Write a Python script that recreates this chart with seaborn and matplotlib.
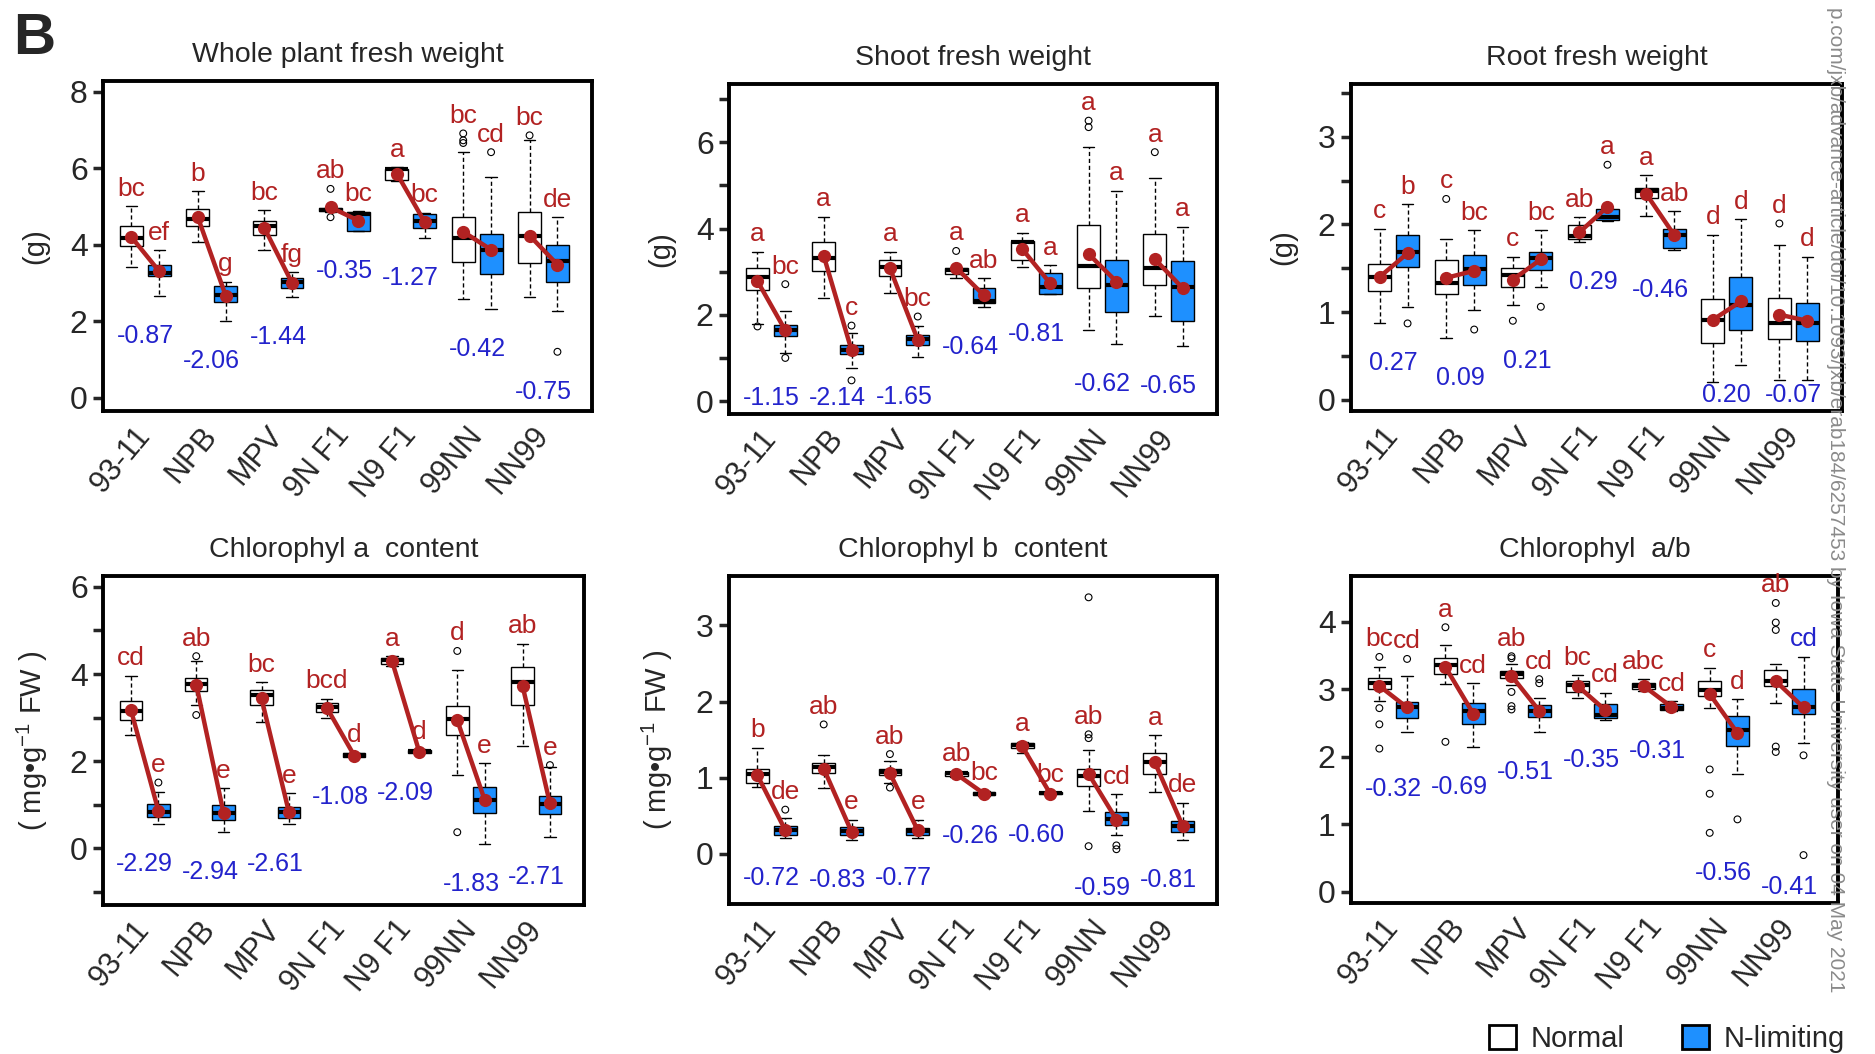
import numpy as np
import pandas as pd
import matplotlib
matplotlib.use("Agg")
import matplotlib.pyplot as plt
import matplotlib.transforms as mtransforms
from matplotlib.patches import Patch
import seaborn as sns

genotypes = ["93-11", "NPB", "MPV", "9N F1", "N9 F1", "99NN", "NN99"]
conditions = ["Normal", "N-limiting"]

# each box: [lower whisker, Q1, median, Q3, upper whisker]
# whole plant fresh weight (g)
wp_normal = [[3.43, 3.96, 4.17, 4.48, 5.01], [4.06, 4.48, 4.68, 4.94, 5.40], [3.87, 4.26, 4.48, 4.63, 4.90],
             [4.85, 4.87, 4.92, 4.96, 4.98], [5.66, 5.70, 5.97, 5.99, 6.03], [2.58, 3.56, 4.17, 4.72, 6.42],
             [2.64, 3.51, 4.22, 4.85, 6.73]]
wp_nlim = [[2.67, 3.17, 3.26, 3.48, 3.85], [2.01, 2.49, 2.68, 2.91, 3.03], [2.64, 2.86, 3.02, 3.12, 3.28],
           [4.35, 4.35, 4.81, 4.85, 4.87], [4.17, 4.43, 4.63, 4.81, 4.83], [2.32, 3.23, 3.87, 4.28, 5.77],
           [2.27, 3.02, 3.58, 3.99, 4.72]]
wp_out_normal = [[], [], [], [5.46, 4.72], [], [6.91, 6.73, 6.66], [6.86]]
wp_out_nlim = [[], [], [], [], [], [6.42], [1.20]]
wp_mean_normal = [4.20, 4.72, 4.45, 4.98, 5.86, 4.34, 4.24]
wp_mean_nlim = [3.30, 2.67, 3.00, 4.63, 4.59, 3.87, 3.48]
wp_let_normal = ["bc", "b", "bc", "ab", "a", "bc", "bc"]
wp_let_nlim = ["ef", "g", "fg", "bc", "bc", "cd", "de"]
wp_change = [-0.87, -2.06, -1.44, -0.35, -1.27, -0.42, -0.75]

# shoot fresh weight (g)
sh_normal = [[1.78, 2.58, 2.88, 3.09, 3.46], [2.40, 3.02, 3.31, 3.68, 4.27], [2.50, 2.91, 3.10, 3.28, 3.46],
             [2.85, 2.94, 3.04, 3.08, 3.09], [3.10, 3.28, 3.68, 3.71, 3.90], [1.64, 2.63, 3.12, 4.08, 5.90],
             [1.98, 2.68, 3.08, 3.87, 5.18]]
sh_nlim = [[1.12, 1.50, 1.65, 1.77, 2.09], [0.77, 1.08, 1.19, 1.31, 1.58], [1.02, 1.31, 1.44, 1.52, 1.75],
           [2.19, 2.28, 2.31, 2.62, 2.85], [2.48, 2.48, 2.64, 2.96, 3.15], [1.33, 2.06, 2.68, 3.27, 4.87],
           [1.28, 1.86, 2.64, 3.25, 4.04]]
sh_out_normal = [[1.73], [], [], [3.48], [], [6.50, 6.35], [5.77]]
sh_out_nlim = [[2.71, 1.00], [1.75, 0.48], [1.96], [], [], [], []]
sh_mean_normal = [2.78, 3.37, 3.08, 3.09, 3.52, 3.41, 3.29]
sh_mean_nlim = [1.64, 1.18, 1.42, 2.45, 2.73, 2.77, 2.62]
sh_let_normal = ["a", "a", "a", "a", "a", "a", "a"]
sh_let_nlim = ["bc", "c", "bc", "ab", "a", "a", "a"]
sh_change = [-1.15, -2.14, -1.65, -0.64, -0.81, -0.62, -0.65]

# root fresh weight (g)
rt_normal = [[0.87, 1.24, 1.40, 1.55, 1.95], [0.70, 1.20, 1.33, 1.59, 1.83], [1.08, 1.29, 1.42, 1.50, 1.63],
             [1.80, 1.83, 1.87, 1.99, 2.08], [2.09, 2.30, 2.38, 2.42, 2.56], [0.20, 0.65, 0.91, 1.15, 1.88],
             [0.23, 0.69, 0.88, 1.16, 1.76]]
rt_nlim = [[1.06, 1.51, 1.69, 1.88, 2.23], [1.02, 1.31, 1.49, 1.65, 1.93], [1.29, 1.48, 1.62, 1.69, 1.93],
           [2.04, 2.05, 2.08, 2.18, 2.19], [1.71, 1.73, 1.88, 1.95, 2.15], [0.39, 0.79, 1.08, 1.40, 2.06],
           [0.23, 0.67, 0.87, 1.10, 1.63]]
rt_out_normal = [[], [2.29], [0.90], [], [], [], [2.01]]
rt_out_nlim = [[0.87], [0.80], [1.06], [2.68], [], [], []]
rt_mean_normal = [1.40, 1.39, 1.37, 1.91, 2.35, 0.91, 0.97]
rt_mean_nlim = [1.67, 1.47, 1.60, 2.20, 1.88, 1.12, 0.90]
rt_let_normal = ["c", "c", "c", "ab", "a", "d", "d"]
rt_let_nlim = ["b", "bc", "bc", "a", "ab", "d", "d"]
rt_change = [0.27, 0.09, 0.21, 0.29, -0.46, 0.20, -0.07]

# chlorophyll a (mg/g FW)
ca_normal = [[2.61, 2.94, 3.16, 3.38, 3.96], [3.30, 3.62, 3.78, 3.91, 4.30], [2.89, 3.30, 3.52, 3.63, 3.81],
             [3.00, 3.12, 3.25, 3.34, 3.43], [4.19, 4.24, 4.32, 4.37, 4.41], [1.68, 2.60, 2.96, 3.27, 4.09],
             [2.35, 3.29, 3.82, 4.17, 4.70]]
ca_nlim = [[0.56, 0.73, 0.83, 1.02, 1.30], [0.38, 0.65, 0.80, 0.99, 1.38], [0.56, 0.70, 0.84, 0.94, 1.26],
           [2.09, 2.10, 2.14, 2.18, 2.19], [2.18, 2.19, 2.23, 2.26, 2.27], [0.11, 0.82, 1.11, 1.40, 1.95],
           [0.25, 0.79, 1.01, 1.20, 1.86]]
ca_out_normal = [[], [4.41, 3.06], [], [], [], [4.53, 0.37], []]
ca_out_nlim = [[1.51], [], [], [], [], [], [1.91]]
ca_mean_normal = [3.17, 3.76, 3.44, 3.23, 4.30, 2.94, 3.73]
ca_mean_nlim = [0.86, 0.80, 0.83, 2.13, 2.20, 1.11, 1.03]
ca_let_normal = ["cd", "ab", "bc", "bcd", "a", "d", "ab"]
ca_let_nlim = ["e", "e", "e", "d", "d", "e", "e"]
ca_change = [-2.29, -2.94, -2.61, -1.08, -2.09, -1.83, -2.71]

# chlorophyll b (mg/g FW)
cb_normal = [[0.88, 0.93, 1.05, 1.12, 1.39], [0.86, 1.06, 1.14, 1.19, 1.30], [0.93, 1.03, 1.08, 1.12, 1.22],
             [1.01, 1.02, 1.06, 1.08, 1.08], [1.33, 1.39, 1.43, 1.45, 1.47], [0.56, 0.89, 1.02, 1.12, 1.37],
             [0.81, 1.05, 1.21, 1.33, 1.56]]
cb_nlim = [[0.21, 0.25, 0.31, 0.37, 0.47], [0.18, 0.25, 0.30, 0.35, 0.45], [0.21, 0.25, 0.30, 0.34, 0.45],
           [0.76, 0.77, 0.79, 0.81, 0.83], [0.77, 0.78, 0.80, 0.81, 0.81], [0.25, 0.38, 0.46, 0.55, 0.78],
           [0.18, 0.29, 0.37, 0.43, 0.67]]
cb_out_normal = [[], [1.70], [1.31, 0.87], [], [], [3.37, 1.57, 1.52, 0.10], []]
cb_out_nlim = [[0.58], [], [], [], [], [0.11, 0.06], []]
cb_mean_normal = [1.03, 1.12, 1.06, 1.05, 1.41, 1.05, 1.20]
cb_mean_nlim = [0.31, 0.29, 0.31, 0.79, 0.79, 0.45, 0.37]
cb_let_normal = ["b", "ab", "ab", "ab", "a", "ab", "a"]
cb_let_nlim = ["de", "e", "e", "bc", "bc", "cd", "de"]
cb_change = [-0.72, -0.83, -0.77, -0.26, -0.60, -0.59, -0.81]

# chlorophyll a/b
ab_normal = [[2.82, 3.01, 3.09, 3.17, 3.33], [3.08, 3.22, 3.36, 3.47, 3.65], [3.07, 3.17, 3.22, 3.27, 3.37],
             [2.87, 2.96, 3.06, 3.13, 3.21], [2.98, 3.01, 3.05, 3.10, 3.15], [2.72, 2.90, 2.99, 3.12, 3.32],
             [2.79, 3.05, 3.13, 3.28, 3.37]]
ab_nlim = [[2.36, 2.58, 2.73, 2.81, 3.19], [2.15, 2.48, 2.68, 2.79, 3.09], [2.37, 2.59, 2.68, 2.77, 2.87],
           [2.54, 2.58, 2.62, 2.78, 2.95], [2.68, 2.69, 2.72, 2.78, 2.82], [1.74, 2.16, 2.40, 2.60, 2.85],
           [2.20, 2.64, 2.73, 3.00, 3.48]]
ab_out_normal = [[3.48, 2.72, 2.48, 2.12], [3.92, 2.22], [3.49, 3.46, 2.96, 2.75, 2.70], [], [],
                 [1.81, 1.45, 0.87], [4.28, 3.99, 3.88, 2.15, 2.07]]
ab_out_nlim = [[3.45], [], [3.15, 3.09], [], [], [1.07], [2.02, 0.54]]
ab_mean_normal = [3.05, 3.33, 3.20, 3.05, 3.05, 2.93, 3.12]
ab_mean_nlim = [2.73, 2.64, 2.68, 2.69, 2.74, 2.35, 2.73]
ab_let_normal = ["bc", "a", "ab", "bc", "abc", "c", "ab"]
ab_let_nlim = ["cd", "cd", "cd", "cd", "cd", "d", "cd"]
ab_change = [-0.32, -0.69, -0.51, -0.35, -0.31, -0.56, -0.41]

RED = "#B22222"
BLUE_TXT = "#2323CC"
BOX_BLUE = "#1E90FF"
box_width = 0.84
unit_label = "( mg\u2022g$^{-1}$ FW )"

panels = [
    dict(title="Whole plant fresh weight", ylabel="(g)", box=(wp_normal, wp_nlim), out=(wp_out_normal, wp_out_nlim),
         mean=(wp_mean_normal, wp_mean_nlim), let=(wp_let_normal, wp_let_nlim), change=wp_change,
         ylim=(-0.35, 8.28), ticks=np.arange(0, 9, 2), labstep=2, rect=[0.0549, 0.610, 0.2608, 0.3131]),
    dict(title="Shoot fresh weight", ylabel="(g)", box=(sh_normal, sh_nlim), out=(sh_out_normal, sh_out_nlim),
         mean=(sh_mean_normal, sh_mean_nlim), let=(sh_let_normal, sh_let_nlim), change=sh_change,
         ylim=(-0.3, 7.35), ticks=np.arange(0, 8, 1), labstep=2, rect=[0.3888, 0.6072, 0.2603, 0.3131]),
    dict(title="Root fresh weight", ylabel="(g)", box=(rt_normal, rt_nlim), out=(rt_out_normal, rt_out_nlim),
         mean=(rt_mean_normal, rt_mean_nlim), let=(rt_let_normal, rt_let_nlim), change=rt_change,
         ylim=(-0.13, 3.6), ticks=np.arange(0, 3.6, 0.5), labstep=1, rect=[0.7205, 0.610, 0.2619, 0.3102]),
    dict(title="Chlorophyl a  content", ylabel=unit_label, box=(ca_normal, ca_nlim), out=(ca_out_normal, ca_out_nlim),
         mean=(ca_mean_normal, ca_mean_nlim), let=(ca_let_normal, ca_let_nlim), change=ca_change,
         ylim=(-1.3, 6.25), ticks=np.arange(-1, 7, 1), labstep=2, rect=[0.0549, 0.1414, 0.2565, 0.3121]),
    dict(title="Chlorophyl b  content", ylabel=unit_label, box=(cb_normal, cb_nlim), out=(cb_out_normal, cb_out_nlim),
         mean=(cb_mean_normal, cb_mean_nlim), let=(cb_let_normal, cb_let_nlim), change=cb_change,
         ylim=(-0.66, 3.65), ticks=np.arange(0, 4, 1), labstep=1, rect=[0.3888, 0.1423, 0.2603, 0.3112]),
    dict(title="Chlorophyl  a/b", ylabel="", box=(ab_normal, ab_nlim), out=(ab_out_normal, ab_out_nlim),
         mean=(ab_mean_normal, ab_mean_nlim), let=(ab_let_normal, ab_let_nlim), change=ab_change,
         ylim=(-0.17, 4.68), ticks=np.arange(0, 5, 1), labstep=1, rect=[0.7205, 0.1433, 0.2597, 0.3102]),
]

sns.set_style("ticks")
plt.rcParams["font.family"] = ["Liberation Sans", "DejaVu Sans"]
plt.rcParams["mathtext.fontset"] = "custom"
plt.rcParams["mathtext.rm"] = "Liberation Sans"
plt.rcParams["mathtext.it"] = "Liberation Sans:italic"

fig = plt.figure(figsize=(18.75, 10.54), dpi=100)
offsets = {"Normal": -box_width / 4, "N-limiting": box_width / 4}
shift_right = mtransforms.ScaledTranslation(6 / 100, 0, fig.dpi_scale_trans)

for p in panels:
    ax = fig.add_axes(p["rect"])
    rows, outs, means = [], [], []
    for c, boxes, olist, mlist in zip(conditions, p["box"], p["out"], p["mean"]):
        for i, g in enumerate(genotypes):
            for v in boxes[i]:
                rows.append((g, c, v))
            for v in olist[i]:
                outs.append((i + offsets[c], v))
            means.append((g, i + offsets[c], mlist[i]))
    df = pd.DataFrame(rows, columns=["genotype", "condition", "value"])
    odf = pd.DataFrame(outs, columns=["pos", "value"])
    mdf = pd.DataFrame(means, columns=["genotype", "pos", "mean"])

    sns.boxplot(data=df, x="genotype", y="value", hue="condition", order=genotypes, hue_order=conditions,
                palette={"Normal": "white", "N-limiting": BOX_BLUE}, saturation=1, whis=(0, 100),
                width=box_width, gap=0.18, linecolor="black", linewidth=1.0, showfliers=False,
                legend=False, ax=ax, medianprops=dict(linewidth=3, color="black"),
                whiskerprops=dict(linestyle=(0, (3, 2))))
    if len(odf):
        sns.scatterplot(data=odf, x="pos", y="value", marker="o", s=24, facecolor="none",
                        edgecolor="black", linewidth=0.8, ax=ax, zorder=3)
    sns.lineplot(data=mdf, x="pos", y="mean", units="genotype", estimator=None, sort=False,
                 color=RED, linewidth=3.2, marker="o", markersize=9.5, markeredgewidth=0, ax=ax, zorder=4)

    ax.set_xlim(-0.64, 6.73)
    ax.set_ylim(*p["ylim"])
    yrange = p["ylim"][1] - p["ylim"][0]

    # significance letters above each box (far-off outliers are ignored)
    for k, c in enumerate(conditions):
        for i in range(len(genotypes)):
            hi = p["box"][k][i][-1]
            near = [v for v in p["out"][k][i] if v - hi < 0.25 * yrange]
            top = max([hi] + near)
            col = RED
            if p["title"] == "Chlorophyl  a/b" and c == "N-limiting" and i == 6:
                col = BLUE_TXT
            ax.annotate(p["let"][k][i], xy=(i + offsets[c], top), xytext=(0, 4), textcoords="offset points",
                        ha="center", va="bottom", color=col, fontsize=19, zorder=5)

    # fold change under each pair, kept inside the frame
    bottom_px = ax.transData.transform((0, p["ylim"][0]))[1]
    for i in range(len(genotypes)):
        low = min(p["box"][0][i] + p["box"][1][i] + p["out"][0][i] + p["out"][1][i])
        y_px = ax.transData.transform((i, low))[1] - 28
        y_px = max(y_px, bottom_px + 28)
        y_txt = ax.transData.inverted().transform((0, y_px))[1]
        ax.text(i, y_txt, f"{p['change'][i]:.2f}", ha="center", va="top", color=BLUE_TXT, fontsize=18)

    ax.set_yticks(p["ticks"])
    ax.set_yticklabels([f"{t:g}" if (t >= 0 and abs(t / p["labstep"] - round(t / p["labstep"])) < 1e-6) else ""
                        for t in p["ticks"]], fontsize=23)
    ax.set_xticks(range(len(genotypes)))
    ax.set_xticklabels(genotypes, rotation=50, ha="right", va="center", rotation_mode="anchor", fontsize=22)
    for lab in ax.get_xticklabels():
        lab.set_transform(lab.get_transform() + shift_right)
    ax.tick_params(axis="x", length=0, pad=14)
    ax.tick_params(axis="y", length=7, width=2.5, pad=4)
    for s in ax.spines.values():
        s.set_visible(True)
        s.set_linewidth(2.8)
        s.set_color("black")
    ax.set_xlabel("")
    ax.set_ylabel(p["ylabel"], fontsize=21)
    ax.yaxis.set_label_coords(-0.11, 0.5)
    ax.set_title(p["title"], fontsize=20.5, pad=14)

fig.text(0.018, 0.963, "B", fontsize=42, fontweight="bold", ha="center", va="center")
fig.text(0.979, 0.058, "p.com/jxb/advance-article/doi/10.1093/jxb/erab184/6257453 by Iowa State University user on 04 May 2021",
         rotation=-90, ha="center", va="bottom", fontsize=15, color="#8a8a8a")

handles = [Patch(facecolor="white", edgecolor="black", linewidth=2),
           Patch(facecolor=BOX_BLUE, edgecolor="black", linewidth=2)]
fig.legend(handles, conditions, loc="center", bbox_to_anchor=(0.889, 0.014), ncol=2, frameon=False,
           fontsize=21, handlelength=0.9, handleheight=0.9, handletextpad=0.5, columnspacing=2.0)

fig.savefig("out.png", dpi=100)
